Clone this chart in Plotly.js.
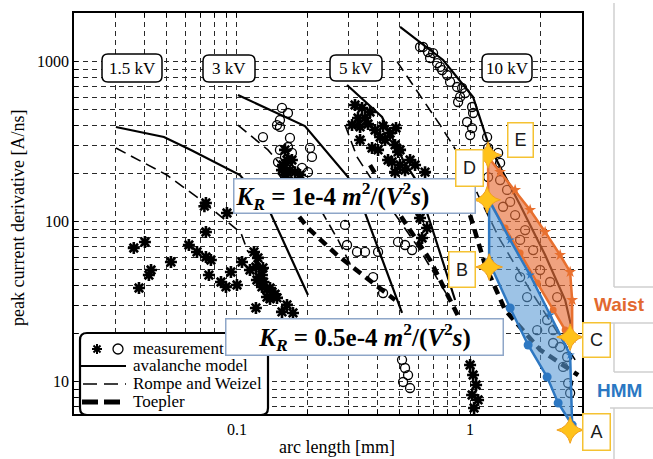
<!DOCTYPE html>
<html><head><meta charset="utf-8">
<script src="https://cdn.plot.ly/plotly-3.0.1.min.js"></script>
<style>html,body{margin:0;padding:0;background:#fff;} #chart{width:653px;height:459px;}</style>
</head><body><div id="chart"></div>
<script>
// ---------- grid / tick values ----------
const xGridVals = [0.03,0.04,0.05,0.06,0.07,0.08,0.09,0.1,0.2,0.3,0.4,0.5,0.6,0.7,0.8,0.9,1,2];
const xGridText = ['','','','','','','','0.1','','','','','','','','','1',''];
const yGridVals = [7,8,9,10,20,30,40,50,60,70,80,90,100,200,300,400,500,600,700,800,900,1000];
const yGridText = ['','','','10','','','','','','','','','100','','','','','','','','','1000'];

// ---------- measurements (stars) ----------
const s15X = [0.0361,0.0403,0.0428,0.0419,0.0380,0.0521,0.0736,0.0725,0.0906,0.0736,0.0622,0.0674,0.0736,0.0773,0.0758,0.0854,0.0897,0.100,0.0942,0.1051,0.1183,0.1206,0.1243,0.128,0.1345,0.1206,0.1413,0.1485,0.1639,0.1739,0.156,0.1293,0.1218,0.130,0.1386,0.1137,0.123,0.128,0.134,0.1386,0.1458];
const s15Y = [68.5,74.7,49.9,46.4,38.5,56.0,130.9,125,113.4,86.2,71.5,64.7,60.2,57.6,46.4,42.0,39.1,40.2,48.5,56.0,64.7,52.1,45.1,39.1,33.8,28.9,36.4,33.4,30.2,26.9,27.3,51.4,43.2,42,38.5,49.9,59.4,46.4,37.8,32.9,35.2];
const s3X = [0.1607,0.1639,0.1576,0.1688,0.1607,0.1774,0.1864,0.156,0.1721,0.1623];
const s3Y = [281,243,226,210,196,204,196,210,243,187.6];
const s5X = [0.3209,0.344,0.3723,0.3305,0.3116,0.3373,0.3648,0.3911,0.4234,0.4536,0.4812,0.411,0.3797,0.4765,0.4909,0.4626,0.5008,0.526,0.5527,0.4765,0.5807,0.641,0.6101,0.6536,0.6223,1.0,1.03,1.061,1.02,1.082,1.04,0.3543,0.4316,0.4029,0.4447,0.5008,0.3373];
const s5Y = [536,514,485,445,402,391,408,374,396,358,385,338,289,302,273,236,226,210,243,204,226,204,105.5,91.3,79.1,12.72,11.01,9.54,8.26,7.69,6.85,445,324,281,243,281,324];

// ---------- measurements (circles) ----------
const c3X = [0.156,0.1655,0.1529,0.1529,0.1293,0.1688,0.1655,0.1529,0.1607,0.150,0.1655,0.2058,0.2098,0.1901,0.2017,0.1576,0.1485,0.1721];
const c3Y = [514,478,432,391,338,334,293,281,254,236,220,289,254,217,204,202,402,269];
const c5X = [0.2966,0.3273,0.3543,0.4029,0.3835,0.4234,0.2908,0.4909,0.526,0.5638,0.5106,0.526,0.5419,0.5158,0.5527];
const c5Y = [71.5,64.7,64.7,64.7,45.1,35.8,95.4,74.7,71.5,66.5,13.7,12.18,11.0,9.96,9.13];
const c10X = [0.6287,0.6602,0.6939,0.6736,0.7219,0.7436,0.7586,0.797,0.8208,0.8796,0.9241,0.9518,0.906,0.8883,1.02,0.9708,1.02,1.0,1.183,1.195,1.345,1.195,1.345,1.441,1.485,1.385,0.6101,1.03,1.319,1.639,1.864,1.997,2.204,2.363,1.56,1.722,1.639,1.756,2.14,2.271,2.433,2.608,2.506,2.633,2.686,2.271,1.94];
const c10Y = [1236,1150,1133,1055,981,927,887,826,747,695,685,637,602,560,521,420,385,348,338,289,233,190,182,158,133,124,1236,478,269,76.9,66.5,49.9,42.0,33.8,110,88.7,45.1,33.8,24.3,21.0,16.48,14.27,12.36,9.81,8.5,17.45,21.0];

// ---------- model curves ----------
const av15X = [0.03025,0.04861,0.06348,0.103,0.1386,0.2017];
const av15Y = [390.8,338.3,280.6,195.8,115.0,34.8];
const rw15X = [0.03025,0.05006,0.07009,0.104,0.1115];
const rw15Y = [288.8,195.8,136.6,85.0,64.7];
const av3X = [0.101,0.1957,0.2995,0.3543,0.5106];
const av3Y = [619.3,396,190.3,113.4,26.9];
const rw3X = [0.101,0.1358,0.1792,0.2317,0.2714,0.3116];
const rw3Y = [402,281,177,115,76.9,51.4];
const tp3X = [0.169,0.2017,0.2689,0.3835,0.4765];
const tp3Y = [127.2,91.3,61.9,41.4,32.4];
const av5X = [0.2966,0.4191,0.5158,0.5862,0.6736,0.8623];
const av5Y = [715,451,243,182,99.6,32.4];
const rw5X = [0.2908,0.3273,0.4316,0.6101,0.8208];
const rw5Y = [402,254,137,66.5,32.4];
const tp5X = [0.3723,0.5008,0.6736,0.906];
const tp5Y = [226,110,57.6,24.3];
const av10X = [0.5008,0.7658,1.030,1.195,1.345,1.639,2.098,2.557,2.74];
const av10Y = [1648,1025,602,310,220,127.2,61.9,32.4,21.0];
const rw10X = [0.4862,0.6101,0.7436,0.9241,1.082,1.345,1.809,2.822];
const rw10Y = [1001,619,402,243,146.9,76.9,37.4,13.7];
const tp10X = [1.0,1.16,1.413,1.997,2.908];
const tp10Y = [110,53.6,28.1,15.8,11.0];

// ---------- overlay regions ----------
const waistUpX = [1.195,1.345,1.56,1.809,2.098,2.433,2.686,2.74,2.74];
const waistUpY = [253.8,204.5,157.8,118.4,86.2,61.9,48.5,32.4,18.75];
const waistLoX = [1.195,1.195,1.413,1.639,1.94,2.271,2.557,2.74];
const waistLoY = [253.8,137,91.3,63.7,41.4,28.06,21.04,18.75];
const hmmUpX = [1.207,1.485,1.809,2.204,2.686,2.74];
const hmmUpY = [137,76.9,46.4,26.1,14.7,5.36];
const hmmLoX = [1.207,1.207,1.485,1.774,2.14,2.386,2.74];
const hmmLoY = [137,56.0,28.9,16.96,10.7,7.36,5.36];
const keyX = [1.195,1.183,1.207,2.686,2.686];
const keyY = [261.2,137,52.1,19.0,4.99];

// ---------- layout helpers (pixel -> paper) ----------
const PL = 74, PT = 13, PW = 508, PH = 431;
function px(x){return (x-PL)/PW;}
function py(y){return (PT+PH-y)/PH;}
function P(x,y){return px(x).toFixed(5)+','+py(y).toFixed(5);}
function rrect(x0,y0,x1,y1,r){
  return 'M'+P(x0+r,y0)+' L'+P(x1-r,y0)+' Q'+P(x1,y0)+' '+P(x1,y0+r)+
    ' L'+P(x1,y1-r)+' Q'+P(x1,y1)+' '+P(x1-r,y1)+' L'+P(x0+r,y1)+
    ' Q'+P(x0,y1)+' '+P(x0,y1-r)+' L'+P(x0,y0+r)+' Q'+P(x0,y0)+' '+P(x0+r,y0)+' Z';
}

const SERIF = 'Liberation Serif, Times New Roman, serif';
const SANS = 'Liberation Sans, Arial, sans-serif';

function curve(x,y,dash,width){
  return {type:'scatter',mode:'lines',x:x,y:y,line:{color:'black',width:width,dash:dash},hoverinfo:'skip',showlegend:false};
}
const AV = 'solid', RW = '11px,6px', TP = '9px,6px';

const traces = [
  curve(av15X,av15Y,AV,2.2), curve(rw15X,rw15Y,RW,1.6),
  curve(av3X,av3Y,AV,2.2), curve(rw3X,rw3Y,RW,1.6), curve(tp3X,tp3Y,TP,4.5),
  curve(av5X,av5Y,AV,2.2), curve(rw5X,rw5Y,RW,1.6), curve(tp5X,tp5Y,TP,4.5),
  curve(av10X,av10Y,AV,2.2), curve(rw10X,rw10Y,RW,1.6), curve(tp10X,tp10Y,TP,4.5),
  {type:'scatter',mode:'markers',x:s15X.concat(s3X,s5X),y:s15Y.concat(s3Y,s5Y),
   marker:{symbol:'asterisk-open',size:10,color:'black',line:{color:'black',width:2.6}},showlegend:false},
  {type:'scatter',mode:'markers',x:c3X.concat(c5X,c10X),y:c3Y.concat(c5Y,c10Y),
   marker:{symbol:'circle-open',size:9,color:'black',line:{color:'black',width:1.3}},showlegend:false},
  // overlay regions on second (taller) subplot
  {type:'scatter',mode:'lines',xaxis:'x2',yaxis:'y2',x:waistUpX.concat(waistLoX.slice().reverse()),y:waistUpY.concat(waistLoY.slice().reverse()),
   fill:'toself',fillcolor:'rgba(232,112,58,0.65)',line:{width:0},showlegend:false},
  {type:'scatter',mode:'lines+markers',xaxis:'x2',yaxis:'y2',x:waistUpX,y:waistUpY,line:{color:'#E8702F',width:2.5},
   marker:{symbol:'star',size:9,color:'#E8702F'},showlegend:false},
  {type:'scatter',mode:'lines+markers',xaxis:'x2',yaxis:'y2',x:waistLoX,y:waistLoY,line:{color:'#E8702F',width:2.5},
   marker:{symbol:'circle',size:7,color:'#E8702F'},showlegend:false},
  {type:'scatter',mode:'lines',xaxis:'x2',yaxis:'y2',x:hmmUpX.concat(hmmLoX.slice().reverse()),y:hmmUpY.concat(hmmLoY.slice().reverse()),
   fill:'toself',fillcolor:'rgba(91,155,213,0.6)',line:{width:0},showlegend:false},
  {type:'scatter',mode:'lines+markers',xaxis:'x2',yaxis:'y2',x:hmmUpX,y:hmmUpY,line:{color:'#2E78C2',width:2.5},
   marker:{symbol:'star',size:7,color:'#2E78C2'},showlegend:false},
  {type:'scatter',mode:'lines+markers',xaxis:'x2',yaxis:'y2',x:hmmLoX,y:hmmLoY,line:{color:'#2E78C2',width:2.5},
   marker:{symbol:'circle',size:9,color:'#2E78C2'},showlegend:false},
  {type:'scatter',mode:'markers',xaxis:'x2',yaxis:'y2',x:keyX,y:keyY,
   marker:{symbol:'star-diamond',size:19,color:'#FFC21A',line:{color:'#F0A020',width:1}},showlegend:false}
];

const gridCommon = {
  type:'log', tickmode:'array', showgrid:true, gridcolor:'#2a2a2a', griddash:'5px,4px', gridwidth:1,
  ticks:'inside', ticklen:4, tickcolor:'black', tickwidth:1,
  showline:true, linecolor:'black', linewidth:1.8, mirror:'allticks', zeroline:false,
  tickfont:{family:SERIF,size:16,color:'black'}
};

const shapes = [];
// kV labels (rounded boxes)
const kvBoxes = [[102,54,162,82],[203,55,255,82],[330,55,382,81],[482,54,532,82]];
kvBoxes.forEach(b=>shapes.push({type:'path',xref:'paper',yref:'paper',path:rrect(b[0],b[1],b[2],b[3],6),
  fillcolor:'white',line:{color:'black',width:1.5},layer:'above'}));
// legend box
shapes.push({type:'path',xref:'paper',yref:'paper',path:rrect(80,333,268,415,7),fillcolor:'white',line:{color:'black',width:2.2},layer:'above'});
// legend samples
shapes.push({type:'path',xref:'paper',yref:'paper',layer:'above',fillcolor:'rgba(0,0,0,0)',line:{color:'black',width:2},
  path:'M'+P(92,349)+' L'+P(102,349)+' M'+P(97,344)+' L'+P(97,354)+' M'+P(93.5,345.5)+' L'+P(100.5,352.5)+' M'+P(93.5,352.5)+' L'+P(100.5,345.5)});
shapes.push({type:'circle',xref:'paper',yref:'paper',layer:'above',x0:px(113),x1:px(123),y0:py(354),y1:py(344),line:{color:'black',width:1.3},fillcolor:'rgba(0,0,0,0)'});
shapes.push({type:'line',xref:'paper',yref:'paper',layer:'above',x0:px(81),x1:px(126),y0:py(366),y1:py(366),line:{color:'black',width:2}});
shapes.push({type:'line',xref:'paper',yref:'paper',layer:'above',x0:px(83),x1:px(126),y0:py(384),y1:py(384),line:{color:'black',width:1.6,dash:'14px,7px'}});
shapes.push({type:'line',xref:'paper',yref:'paper',layer:'above',x0:px(82),x1:px(126),y0:py(402),y1:py(402),line:{color:'black',width:5,dash:'16px,6px'}});
// slide frame lines on the right
const GR = {color:'#cfcfcf',width:1.5};
[[614,3,614,287],[614,287,653,287],[610,323,653,323],[614,323,614,372],[614,372,653,372],[610,408,653,408],[614,408,614,459]]
  .forEach(l=>shapes.push({type:'line',xref:'paper',yref:'paper',x0:px(l[0]),y0:py(l[1]),x1:px(l[2]),y1:py(l[3]),line:GR}));

const ann = [];
function txt(t,x,y,opts){ann.push(Object.assign({xref:'paper',yref:'paper',x:px(x),y:py(y),text:t,showarrow:false,xanchor:'center',yanchor:'middle'},opts||{}));}
// kV texts
txt('1.5 kV',132,68,{font:{family:SERIF,size:17,color:'black'}});
txt('3 kV',229,68.5,{font:{family:SERIF,size:17,color:'black'}});
txt('5 kV',356,68,{font:{family:SERIF,size:17,color:'black'}});
txt('10 kV',507,68,{font:{family:SERIF,size:17,color:'black'}});
// axis titles
txt('arc length [mm]',337,447,{font:{family:SERIF,size:18,color:'black'}});
txt('peak current derivative [A/ns]',18,218,{textangle:-90,font:{family:SERIF,size:18,color:'black'}});
// legend texts
const LF = {family:SERIF,size:17,color:'black'};
txt('measurement',131,348,{xanchor:'left',font:LF});
txt('avalanche model',131,365,{xanchor:'left',font:LF});
txt('Rompe and Weizel',131,383,{xanchor:'left',font:LF});
txt('Toepler',131,401,{xanchor:'left',font:LF});
// K_R boxes
const KF = {family:SERIF,size:25,color:'black'};
txt('<b><i>K</i><sub><i>R</i></sub> = 1e-4 <i>m</i><sup>2</sup>/(<i>V</i><sup>2</sup><i>s</i>)</b>',354,195.5,
  {width:238,height:31,align:'left',bgcolor:'white',bordercolor:'#8EA6C8',borderwidth:1.5,borderpad:1,font:KF});
txt('<b><i>K</i><sub><i>R</i></sub> = 0.5e-4 <i>m</i><sup>2</sup>/(<i>V</i><sup>2</sup><i>s</i>)</b>',364,336.5,
  {width:274,height:33,align:'center',bgcolor:'white',bordercolor:'#8EA6C8',borderwidth:1.5,borderpad:1,font:KF});
// point labels
const LBF = {family:SANS,size:18,color:'#1a1a1a'};
[['E',520,139.5,24,33],['D',469,168.5,26,35],['B',461.5,270,25,34],['C',596,339.5,26,33],['A',596,431.5,26,35]]
  .forEach(l=>txt(l[0],l[1],l[2],{width:l[3],height:l[4],bgcolor:'white',bordercolor:'#F5C232',borderwidth:1.5,borderpad:0,font:LBF}));
txt('<b>Waist</b>',619,304,{font:{family:SANS,size:19,color:'#E2692F'}});
txt('<b>HMM</b>',619,390,{font:{family:SANS,size:19,color:'#2B78C3'}});

const layout = {
  width:653, height:459,
  margin:{l:PL, r:653-PL-PW, t:PT, b:459-PT-PH, pad:0},
  paper_bgcolor:'white', plot_bgcolor:'rgba(0,0,0,0)',
  showlegend:false,
  xaxis:Object.assign({}, gridCommon, {domain:[0,1], anchor:'y', range:[Math.log10(0.02),Math.log10(3.02)], tickvals:xGridVals, ticktext:xGridText}),
  yaxis:Object.assign({}, gridCommon, {domain:[30/431,1], anchor:'x', range:[0.7981,3.3044], tickvals:yGridVals, ticktext:yGridText}),
  xaxis2:{type:'log', domain:[0,1], anchor:'y2', range:[Math.log10(0.02),Math.log10(3.02)], visible:false},
  yaxis2:{type:'log', domain:[0,1], anchor:'x2', range:[0.6106,3.3044], visible:false},
  shapes:shapes,
  annotations:ann
};

Plotly.newPlot('chart', traces, layout, {staticPlot:true, displayModeBar:false});
</script>
</body></html>
